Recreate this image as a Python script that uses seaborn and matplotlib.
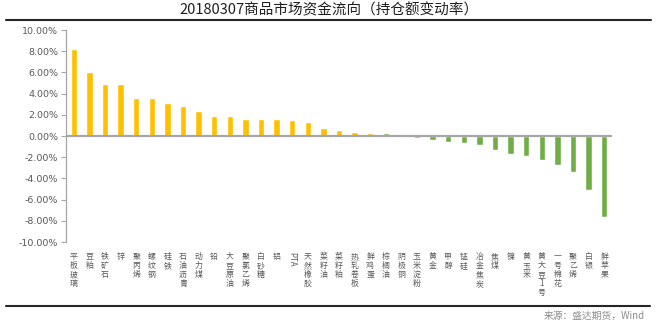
import matplotlib
matplotlib.use("Agg")
import matplotlib.pyplot as plt
import seaborn as sns
import pandas as pd
from matplotlib.lines import Line2D

categories = ["平板玻璃", "豆粕", "铁矿石", "锌", "聚丙烯", "螺纹钢", "硅铁", "石油沥青",
              "动力煤", "铅", "大豆原油", "聚氯乙烯", "白砂糖", "铝", "PTA", "天然橡胶",
              "菜籽油", "菜籽粕", "热轧卷板", "鲜鸡蛋", "棕榈油", "阴极铜", "玉米淀粉", "黄金",
              "甲醇", "锰硅", "冶金焦炭", "焦煤", "镍", "黄玉米", "黄大豆1号", "一号棉花",
              "聚乙烯", "白银", "鲜苹果"]
change_pct = [8.25, 6.03, 4.94, 4.94, 3.63, 3.62, 3.09, 2.87, 2.37, 1.87, 1.86, 1.62,
              1.62, 1.62, 1.53, 1.31, 0.78, 0.56, 0.37, 0.28, 0.28, 0.19, -0.16, -0.37,
              -0.53, -0.63, -0.87, -1.28, -1.72, -1.87, -2.22, -2.72, -3.40, -5.06, -7.66]
bar_group = ["up"] * 20 + ["down"] * 15
palette = {"up": "#FFC000", "down": "#70AD47"}

title = "20180307商品市场资金流向（持仓额变动率）"
source = "来源：盛达期货，Wind"
yticks = [-10, -8, -6, -4, -2, 0, 2, 4, 6, 8, 10]

sns.set_theme(style="white")
plt.rcParams["font.family"] = ["Noto Sans CJK SC", "DejaVu Sans"]

df = pd.DataFrame({"品种": categories, "变动率": change_pct, "组": bar_group})

fig = plt.figure(figsize=(6.57, 3.30), dpi=100)
ax = fig.add_axes([66 / 657, 1 - 242 / 330, (612 - 66) / 657, (242 - 30) / 330])

sns.barplot(data=df, x="品种", y="变动率", hue="组", palette=palette,
            dodge=False, width=0.42, legend=False, ax=ax, saturation=1)

ax.set_xlim(-0.5, len(categories) - 0.5)
ax.set_ylim(-10, 10)
ax.set_yticks(yticks)
ax.set_yticklabels([f"{v:.2f}%" for v in yticks], fontsize=6.8, color="#595959",
                   family=["DejaVu Sans"])
ax.tick_params(axis="y", direction="out", length=3.5, width=0.8, color="#A6A6A6", pad=2, left=True)
ax.tick_params(axis="x", length=0, pad=7)

ax.set_xlabel("")
ax.set_ylabel("")
for side in ["top", "right", "bottom"]:
    ax.spines[side].set_visible(False)
ax.spines["left"].set_color("#A6A6A6")
ax.spines["left"].set_linewidth(0.9)
ax.axhline(0, color="#A6A6A6", linewidth=1.6, zorder=3)

labels = []
for name in categories:
    if name.isascii():
        labels.append(name)
    else:
        labels.append("\n".join(name))
ax.set_xticks(range(len(categories)))
ax.set_xticklabels(labels, fontsize=5.7, color="#595959", linespacing=1.02, va="top")
for t, name in zip(ax.get_xticklabels(), categories):
    if name.isascii():
        t.set_rotation(-90)
        t.set_rotation_mode("anchor")
        t.set_ha("left")
        t.set_va("center")

fig.text(0.5, 1 - 10 / 330, title, ha="center", va="center", fontsize=10.5,
         color="#1F1F1F")
fig.add_artist(Line2D([6 / 657, 651 / 657], [1 - 19.5 / 330] * 2, color="#262626", linewidth=1.5))
fig.add_artist(Line2D([6 / 657, 650 / 657], [1 - 306 / 330] * 2, color="#262626", linewidth=1.5))
fig.text(645 / 657, 1 - 316 / 330, source, ha="right", va="center", fontsize=7,
         style="italic", color="#8C8C8C")

fig.savefig("out.png", dpi=100)
